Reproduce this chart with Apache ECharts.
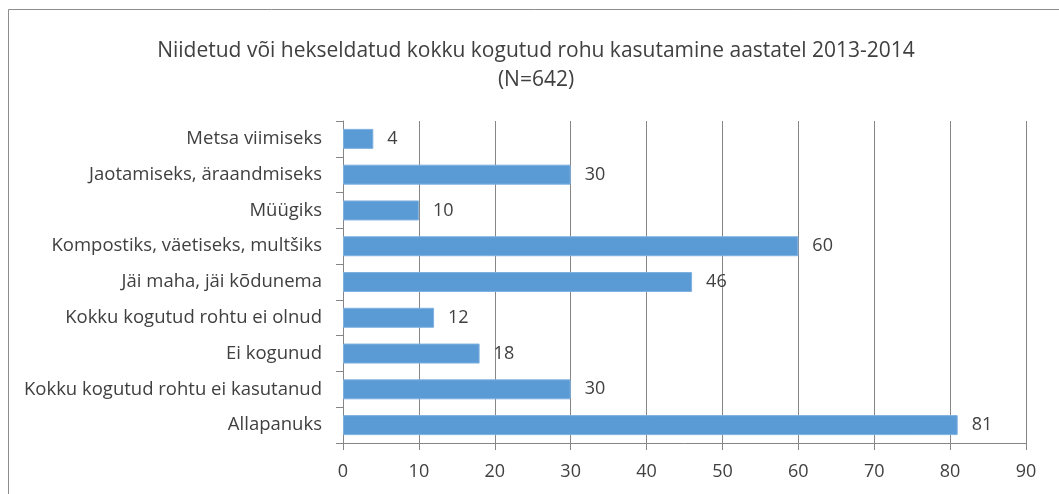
<!DOCTYPE html>
<html lang="et">
<head>
<meta charset="UTF-8">
<title>Niidetud rohu kasutamine</title>
<script src="https://cdn.jsdelivr.net/npm/echarts@6/dist/echarts.min.js"></script>
<style>
    html, body { margin: 0; padding: 0; background: #fff; }
    #chart { width: 1059px; height: 494px; }
</style>
</head>
<body>

<div id="chart"></div>

<script>
// categories top -> bottom as in the picture
var categories = [
    'Metsa viimiseks',
    'Jaotamiseks, äraandmiseks',
    'Müügiks',
    'Kompostiks, väetiseks, multšiks',
    'Jäi maha, jäi kõdunema',
    'Kokku kogutud rohtu ei olnud',
    'Ei kogunud',
    'Kokku kogutud rohtu ei kasutanud',
    'Allapanuks'
];
var values = [4, 30, 10, 60, 46, 12, 18, 30, 81];

var titleLines = [
    'Niidetud või hekseldatud kokku kogutud rohu kasutamine aastatel 2013-2014',
    '(N=642)'
];

var font = 'Open Sans';
var textColor = '#404040';

var myChart = echarts.init(document.getElementById('chart'));

var option = {
    backgroundColor: '#fff',
    textStyle: { fontFamily: font },
    graphic: [
        {
            // outer chart frame
            type: 'rect',
            shape: { x: 8.5, y: 9.5, width: 1100, height: 600 },
            style: { fill: 'none', stroke: '#8c8c8c', lineWidth: 1 },
            silent: true
        }
    ],
    title: {
        text: titleLines.join('\n'),
        left: 536,
        textAlign: 'center',
        top: 32,
        textStyle: {
            fontFamily: font,
            fontSize: 21,
            fontWeight: 'normal',
            color: textColor,
            lineHeight: 29
        }
    },
    grid: {
        left: 343,
        top: 121,
        width: 683,
        height: 322,
        containLabel: false
    },
    xAxis: {
        type: 'value',
        min: 0,
        max: 90,
        interval: 10,
        axisLine: { show: true, lineStyle: { color: '#868686' } },
        axisTick: { show: true, length: 7, lineStyle: { color: '#868686' } },
        splitLine: { show: true, lineStyle: { color: '#868686' } },
        axisLabel: { fontFamily: font, fontSize: 18, color: textColor, margin: 20 }
    },
    yAxis: {
        type: 'category',
        inverse: true,
        data: categories,
        axisLine: { show: true, lineStyle: { color: '#868686' } },
        axisTick: { show: true, length: 7, lineStyle: { color: '#868686' } },
        axisLabel: { fontFamily: font, fontSize: 18.5, color: textColor, margin: 21 }
    },
    series: [
        {
            type: 'bar',
            data: values,
            barWidth: 20,
            itemStyle: { color: '#5b9bd5', borderColor: '#7fb1e0', borderWidth: 1 },
            label: {
                show: true,
                position: 'right',
                distance: 14,
                fontFamily: font,
                fontSize: 18,
                color: textColor
            },
            animation: false
        }
    ],
    animation: false
};

// title block sits a few px left of the frame centre
option.title.left = 531;

myChart.setOption(option);
</script>

</body>
</html>
